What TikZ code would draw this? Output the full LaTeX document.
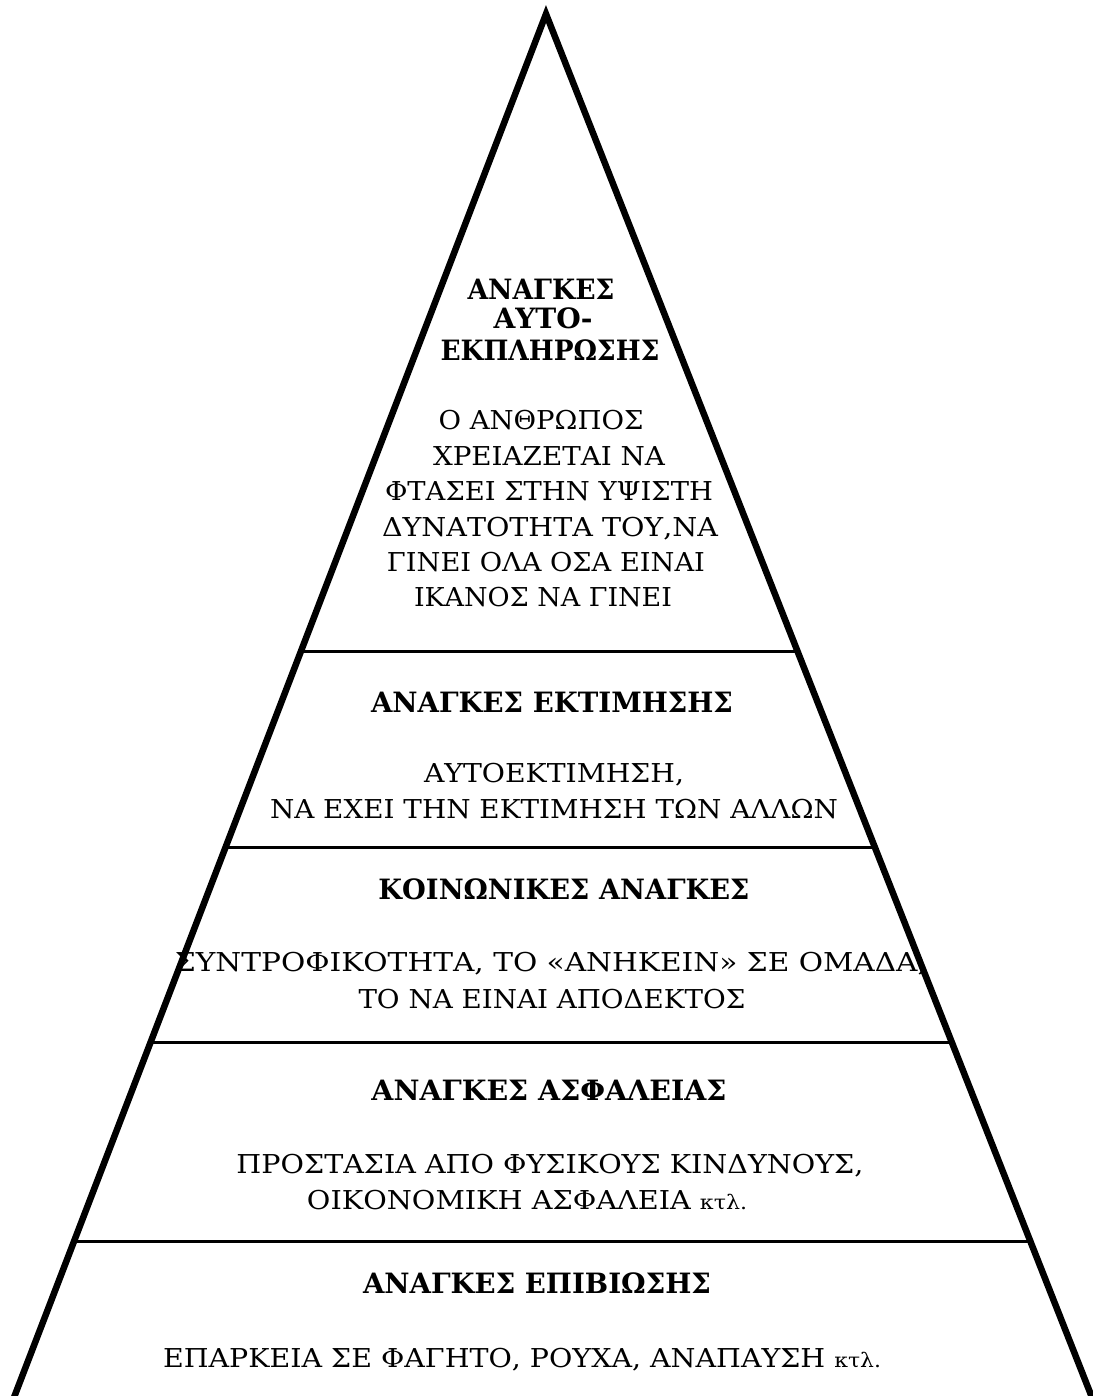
\documentclass[tikz,border=0pt]{standalone}
\usepackage{fontspec}
\usepackage{graphicx}
\setmainfont{DejaVu Serif}
\usetikzlibrary{calc}
\newcommand{\fitw}[2]{\resizebox{#1pt}{\height}{#2}}
\newcommand{\ktl}{{\fontsize{20}{24}\selectfont κτλ.}}
\tikzset{
  side/.style={line width=6.5pt, line join=miter, line cap=butt},
  divider/.style={line width=3pt},
  lvltitle/.style={anchor=base, inner sep=0pt, font=\fontsize{28}{34}\selectfont\bfseries},
  lvlbody/.style={anchor=base, inner sep=0pt, font=\fontsize{26}{32}\selectfont},
}
\begin{document}
\begin{tikzpicture}[x=1pt, y=-1pt]
\useasboundingbox (0,0) rectangle (1092,1396);
\coordinate (A) at (546,14);
\coordinate (L) at (13,1400);
\coordinate (R) at (1093,1400);
\coordinate (d1l) at ($(A)!0.4603!(L)$); \coordinate (d1r) at ($(A)!0.4603!(R)$);
\coordinate (d2l) at ($(A)!0.6017!(L)$); \coordinate (d2r) at ($(A)!0.6017!(R)$);
\coordinate (d3l) at ($(A)!0.7417!(L)$); \coordinate (d3r) at ($(A)!0.7417!(R)$);
\coordinate (d4l) at ($(A)!0.8853!(L)$); \coordinate (d4r) at ($(A)!0.8853!(R)$);
\draw[divider] (d1l) -- (d1r);
\draw[divider] (d2l) -- (d2r);
\draw[divider] (d3l) -- (d3r);
\draw[divider] (d4l) -- (d4r);
\draw[side] (L) -- (A) -- (R);

% self-actualisation
\node[lvltitle] (t1a) at (541,300) {\fitw{147}{ΑΝΑΓΚΕΣ}};
\node[lvltitle] (t1b) at (543,328) {\fitw{99}{ΑΥΤΟ-}};
\node[lvltitle] (t1c) at (550,360) {\fitw{219}{ΕΚΠΛΗΡΩΣΗΣ}};
\node[lvlbody] (b1a) at (541,429) {\fitw{205}{Ο ΑΝΘΡΩΠΟΣ}};
\node[lvlbody] (b1b) at (549,465) {\fitw{232}{ΧΡΕΙΑΖΕΤΑΙ ΝΑ}};
\node[lvlbody] (b1c) at (549,500) {\fitw{328}{ΦΤΑΣΕΙ ΣΤΗΝ ΥΨΙΣΤΗ}};
\node[lvlbody] (b1d) at (550,536) {\fitw{336}{ΔΥΝΑΤΟΤΗΤΑ ΤΟΥ,ΝΑ}};
\node[lvlbody] (b1e) at (546,571) {\fitw{318}{ΓΙΝΕΙ ΟΛΑ ΟΣΑ ΕΙΝΑΙ}};
\node[lvlbody] (b1f) at (543,606) {\fitw{258}{ΙΚΑΝΟΣ ΝΑ ΓΙΝΕΙ}};

% esteem
\node[lvltitle] (t2) at (552,712) {\fitw{362}{ΑΝΑΓΚΕΣ ΕΚΤΙΜΗΣΗΣ}};
\node[lvlbody] (b2a) at (554,782) {\fitw{260}{ΑΥΤΟΕΚΤΙΜΗΣΗ,}};
\node[lvlbody] (b2b) at (554,818) {\fitw{568}{ΝΑ ΕΧΕΙ ΤΗΝ ΕΚΤΙΜΗΣΗ ΤΩΝ ΑΛΛΩΝ}};

% social
\node[lvltitle] (t3) at (564,899) {\fitw{371}{ΚΟΙΝΩΝΙΚΕΣ ΑΝΑΓΚΕΣ}};
\node[lvlbody] (b3a) at (551,971) {\fitw{752}{ΣΥΝΤΡΟΦΙΚΟΤΗΤΑ, ΤΟ «ΑΝΗΚΕΙΝ» ΣΕ ΟΜΑΔΑ,}};
\node[lvlbody] (b3b) at (552,1008) {\fitw{387}{ΤΟ ΝΑ ΕΙΝΑΙ ΑΠΟΔΕΚΤΟΣ}};

% safety
\node[lvltitle] (t4) at (549,1100) {\fitw{355}{ΑΝΑΓΚΕΣ ΑΣΦΑΛΕΙΑΣ}};
\node[lvlbody] (b4a) at (550,1173) {\fitw{627}{ΠΡΟΣΤΑΣΙΑ ΑΠΟ ΦΥΣΙΚΟΥΣ ΚΙΝΔΥΝΟΥΣ,}};
\node[lvlbody] (b4b) at (527,1209) {\fitw{440}{ΟΙΚΟΝΟΜΙΚΗ ΑΣΦΑΛΕΙΑ \ktl}};

% survival
\node[lvltitle] (t5) at (537,1293) {\fitw{348}{ΑΝΑΓΚΕΣ ΕΠΙΒΙΩΣΗΣ}};
\node[lvlbody] (b5) at (522,1367) {\fitw{718}{ΕΠΑΡΚΕΙΑ ΣΕ ΦΑΓΗΤΟ, ΡΟΥΧΑ, ΑΝΑΠΑΥΣΗ \ktl}};
\end{tikzpicture}
\end{document}
